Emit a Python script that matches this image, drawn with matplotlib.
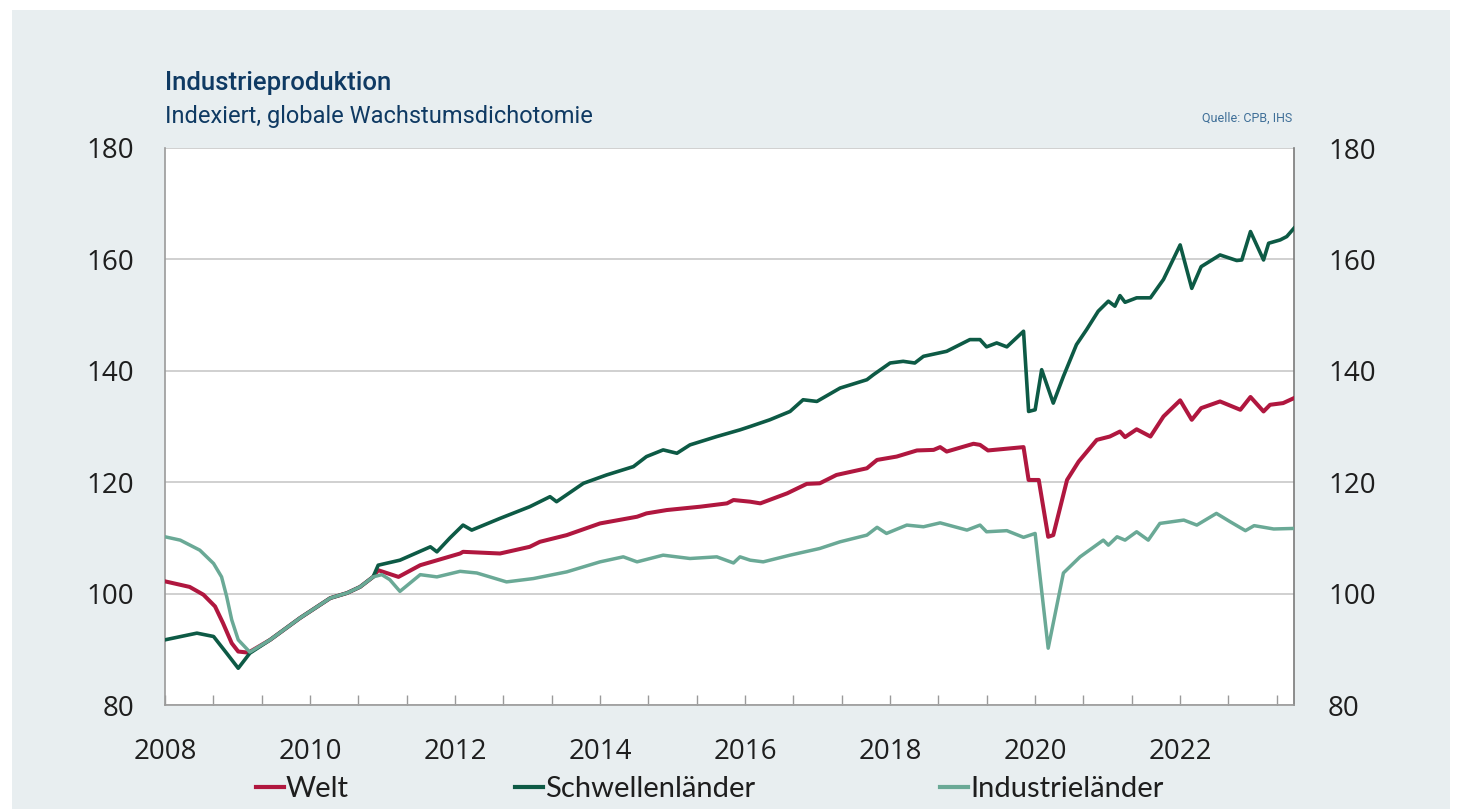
import matplotlib
matplotlib.use("Agg")
import matplotlib.pyplot as plt
from matplotlib.patches import Rectangle
from matplotlib.lines import Line2D

# ---------------- data (years after 2008, index value) ----------------
schwellen_t = [0.00, 0.44, 0.67, 0.85, 1.01, 1.17, 1.45, 1.86, 2.28, 2.51, 2.69, 2.87,
               2.94, 3.24, 3.66, 3.75, 3.93, 4.11, 4.23, 4.62, 5.03, 5.31, 5.40, 5.77,
               6.09, 6.46, 6.64, 6.87, 7.06, 7.24, 7.61, 7.93, 8.07, 8.34, 8.62, 8.80,
               8.99, 9.31, 9.68, 9.77, 10.00, 10.18, 10.34, 10.46, 10.78, 11.10, 11.24,
               11.33, 11.47, 11.61, 11.84, 11.91, 12.00, 12.09, 12.25, 12.39, 12.57,
               12.71, 12.87, 13.01, 13.10, 13.17, 13.24, 13.40, 13.59, 13.77, 14.00,
               14.16, 14.29, 14.55, 14.78, 14.85, 14.97, 15.15, 15.22, 15.38, 15.47, 15.57]
schwellen_v = [91.7, 92.9, 92.3, 89.3, 86.6, 89.3, 91.7, 95.6, 99.2, 100.1, 101.2, 103.0,
               105.1, 106.0, 108.4, 107.5, 110.0, 112.3, 111.4, 113.5, 115.6, 117.4, 116.5, 119.8,
               121.3, 122.8, 124.6, 125.8, 125.2, 126.7, 128.2, 129.4, 130.0, 131.2, 132.7, 134.8,
               134.5, 136.9, 138.4, 139.3, 141.4, 141.7, 141.4, 142.6, 143.5, 145.6, 145.6,
               144.3, 145.0, 144.3, 147.1, 132.7, 133.0, 140.2, 134.2, 139.0, 144.7,
               147.4, 150.7, 152.5, 151.6, 153.5, 152.3, 153.1, 153.1, 156.4, 162.6,
               154.8, 158.7, 160.8, 159.8, 159.9, 165.0, 159.9, 162.9, 163.5, 164.1, 165.6]

welt_t = [0.00, 0.34, 0.53, 0.69, 0.80, 0.92, 1.01, 1.15, 1.45, 1.86, 2.28, 2.51, 2.69,
          2.87, 2.94, 3.22, 3.52, 4.07, 4.11, 4.62, 5.03, 5.17, 5.54, 6.00, 6.51, 6.64,
          6.92, 7.38, 7.75, 7.84, 8.07, 8.21, 8.58, 8.85, 9.03, 9.26, 9.68, 9.82, 10.09,
          10.37, 10.60, 10.69, 10.78, 11.15, 11.24, 11.35, 11.84, 11.91, 12.05, 12.18,
          12.25, 12.44, 12.60, 12.85, 13.03, 13.17, 13.24, 13.40, 13.59, 13.77, 14.00,
          14.16, 14.29, 14.55, 14.83, 14.97, 15.15, 15.24, 15.42, 15.57]
welt_v = [102.2, 101.2, 99.8, 97.7, 94.7, 91.1, 89.6, 89.4, 91.7, 95.6, 99.2, 100.1, 101.2,
          103.0, 104.2, 103.0, 105.1, 107.2, 107.5, 107.2, 108.4, 109.3, 110.5, 112.6, 113.8, 114.4,
          115.0, 115.6, 116.2, 116.8, 116.5, 116.2, 118.0, 119.7, 119.8, 121.3, 122.5, 124.0, 124.6,
          125.7, 125.8, 126.3, 125.5, 126.9, 126.7, 125.7, 126.3, 120.4, 120.4, 110.2,
          110.5, 120.4, 123.7, 127.6, 128.2, 129.1, 128.1, 129.5, 128.2, 131.8, 134.7,
          131.2, 133.3, 134.5, 133.0, 135.3, 132.7, 133.9, 134.2, 135.1]

industrie_t = [0.00, 0.21, 0.48, 0.67, 0.78, 0.85, 0.92, 1.01, 1.17, 1.45, 1.86, 2.28,
               2.51, 2.69, 2.87, 2.99, 3.10, 3.24, 3.52, 3.75, 4.07, 4.30, 4.48, 4.71,
               5.08, 5.54, 6.00, 6.32, 6.51, 6.87, 7.24, 7.61, 7.84, 7.93, 8.07, 8.25,
               8.62, 9.03, 9.31, 9.68, 9.82, 9.95, 10.23, 10.46, 10.69, 11.06, 11.24,
               11.33, 11.61, 11.84, 12.00, 12.18, 12.39, 12.62, 12.94, 13.01, 13.13,
               13.24, 13.40, 13.56, 13.72, 14.05, 14.23, 14.50, 14.69, 14.90, 15.02,
               15.29, 15.57]
industrie_v = [110.2, 109.6, 107.8, 105.4, 103.0, 99.5, 95.3, 91.7, 89.5, 91.7, 95.6, 99.2,
               100.1, 101.2, 103.0, 103.4, 102.5, 100.4, 103.4, 103.0, 104.0, 103.7, 103.0, 102.1,
               102.7, 103.9, 105.7, 106.6, 105.7, 106.9, 106.3, 106.6, 105.5, 106.6, 106.0, 105.7,
               106.9, 108.1, 109.3, 110.5, 111.9, 110.8, 112.3, 112.0, 112.7, 111.4, 112.3,
               111.1, 111.3, 110.1, 110.8, 90.2, 103.7, 106.6, 109.6, 108.7, 110.2,
               109.6, 111.1, 109.6, 112.6, 113.2, 112.3, 114.4, 112.9, 111.3, 112.2,
               111.6, 111.7]

series_names = ["Welt", "Schwellenländer", "Industrieländer"]
series_colors = ["#b0173f", "#0d5a45", "#6aa996"]
year_labels = ["2008", "2010", "2012", "2014", "2016", "2018", "2020", "2022"]
y_ticks = [80, 100, 120, 140, 160, 180]

START = 2008.0
def yrs(ts):
    return [START + t for t in ts]

# ---------------- figure ----------------
W, H = 1460, 809
fig = plt.figure(figsize=(W / 100, H / 100), dpi=100, facecolor="white")
fig.patches.append(Rectangle((12 / W, 0), 1438 / W, (H - 10) / H, transform=fig.transFigure,
                             facecolor="#e8eef0", edgecolor="none", zorder=-10))

ax = fig.add_axes([165 / W, (H - 705) / H, (1294 - 165) / W, (705 - 148) / H])
ax.set_facecolor("white")

ax.plot(yrs(welt_t), welt_v, color=series_colors[0], lw=2.9, solid_joinstyle="round", zorder=3)
ax.plot(yrs(schwellen_t), schwellen_v, color=series_colors[1], lw=2.6, solid_joinstyle="round", zorder=4)
ax.plot(yrs(industrie_t), industrie_v, color=series_colors[2], lw=2.5, solid_joinstyle="round", zorder=5)

xmax = START + 15.57
ax.set_xlim(START, xmax)
ax.set_ylim(80, 180)

# x ticks every 8 months, labels every 2 years
tick_pos = [START + k * 8 / 12 for k in range(24)]
tick_lab = [""] * len(tick_pos)
for i, lab in enumerate(year_labels):
    tick_lab[3 * i] = lab
ax.set_xticks(tick_pos)
ax.set_xticklabels(tick_lab)
ax.tick_params(axis="x", direction="in", length=7, width=1.0, color="#9a9a9a", pad=24,
               labelsize=20, labelcolor="#1e1e1e")

ax.set_yticks(y_ticks)
ax.tick_params(axis="y", length=0, pad=22, labelsize=20, labelcolor="#1e1e1e")
ax.yaxis.grid(True, color="#d0d0d0", lw=1.4)
ax.set_axisbelow(True)

for s in ["left", "right", "bottom"]:
    ax.spines[s].set_color("#9a9a9a")
    ax.spines[s].set_linewidth(1.2)
ax.spines["right"].set_color("#7a7a7a")
ax.spines["top"].set_visible(False)

ax2 = ax.twinx()
ax2.set_ylim(80, 180)
ax2.set_yticks(y_ticks)
ax2.tick_params(axis="y", length=0, pad=24.5, labelsize=20, labelcolor="#1e1e1e")
for s in ax2.spines.values():
    s.set_visible(False)

for lab in ax.get_xticklabels() + ax.get_yticklabels() + ax2.get_yticklabels():
    lab.set_family("Open Sans")

# legends (one entry each, placed like the original)
leg_x = [256, 515, 940]
legends = []
for name, col, px in zip(series_names, series_colors, leg_x):
    h = Line2D([], [], color=col, lw=3.0)
    lg = ax.legend([h], [name], loc="center left",
                   bbox_to_anchor=((px - 165) / (1294 - 165), (705 - 789) / (705 - 148)),
                   frameon=False, handlelength=0.95, handletextpad=0.08, borderpad=0,
                   borderaxespad=0, prop={"family": "Lato", "size": 21},
                   labelcolor="#1e1e1e")
    legends.append(lg)
for lg in legends[:-1]:
    ax.add_artist(lg)

# titles
fig.text(165 / W, 1 - 83 / H, "Industrieproduktion", family="Roboto", weight="medium",
         size=18.5, color="#0f3a63", va="center", ha="left")
fig.text(165 / W, 1 - 116 / H, "Indexiert, globale Wachstumsdichotomie", family="Roboto",
         size=17, color="#0f3a63", va="center", ha="left")
fig.text(1292 / W, 1 - 118 / H, "Quelle: CPB, IHS", family="Roboto", size=9,
         color="#3f6f98", va="center", ha="right")

fig.savefig("out.png", dpi=100, facecolor="white")
